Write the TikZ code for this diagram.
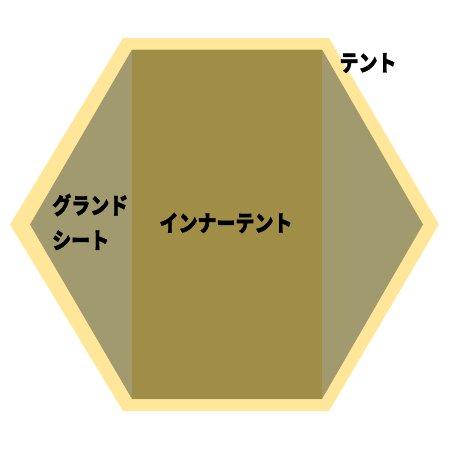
\documentclass[tikz,border=0pt]{standalone}
\usepackage{fontspec}
\newfontfamily\jp{Noto Sans CJK JP}[BoldFeatures={FakeBold=1.5}]
\usetikzlibrary{positioning}

\definecolor{flyyellow}{HTML}{FFE699}
\definecolor{sheetgray}{HTML}{A09A6E}
\definecolor{innerolive}{HTML}{A08E47}

\begin{document}
\begin{tikzpicture}[x=1pt,y=-1pt,
 label text/.style={inner sep=0pt,font=\jp\bfseries\fontsize{19}{35}\selectfont,
   yscale=1.2,transform shape}]
  \useasboundingbox (0,0) rectangle (450,450);

  % tent fly, ground sheet, inner tent
  \fill[flyyellow] (123,38) -- (329,38) -- (439,224.5) -- (329,411) -- (123,411) -- (10,224.5) -- cycle;
  \fill[sheetgray] (132,49.5) -- (322,49.5) -- (423,224.5) -- (322,399) -- (132,399) -- (30,224.5) -- cycle;
  \fill[innerolive] (132,49.5) rectangle (322,399);

  \node[label text] (tent) at (368,63) {テント};
  \node[label text,align=left,anchor=west] (sheet) at (52,222) {グランド\\[-6pt]シート};
  \node[label text] (inner) at (226,223) {インナーテント};
\end{tikzpicture}
\end{document}
